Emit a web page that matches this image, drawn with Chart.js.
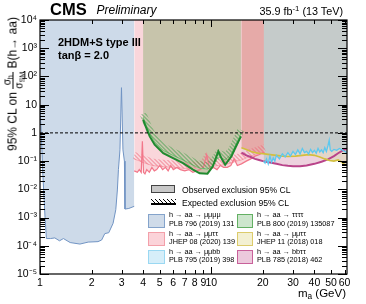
<!DOCTYPE html>
<html lang="en">
<head>
  <meta charset="UTF-8" />
  <title>2HDM+S type III, tanβ = 2.0</title>
  <script src="https://cdn.jsdelivr.net/npm/chart.js"></script>
  <style>
    body { margin: 0; background: #fff; font-family: 'Liberation Sans', Arial, sans-serif; }
    .wrap { position: relative; width: 366px; height: 304px; }
    canvas { display: block; }
    .txt { position: absolute; white-space: nowrap; line-height: 1; color: #000; }
    #cms { left: 50px; top: 1px; font-size: 16.5px; font-weight: bold; }
    #prelim { left: 96.5px; top: 3.8px; font-size: 12px; font-style: italic; }
    #lumi { right: 23px; top: 6.4px; font-size: 10.8px; }
    #model { left: 58px; top: 36.7px; font-size: 11px; font-weight: bold; }
    #tanb { left: 58px; top: 50.3px; font-size: 11px; font-weight: bold; }
    #xtitle { right: 20px; top: 288.3px; font-size: 11.5px; }
    #ytitle { left: 13px; top: 83.5px; font-size: 12px; transform: translate(-50%, -50%) rotate(-90deg); }
    .frac { display: inline-flex; flex-direction: column; vertical-align: middle; font-size: 10px; text-align: center; line-height: 1.1; }
    .frac .num { border-bottom: 1px solid #000; padding: 0 1px; }
    sub, sup { font-size: 0.72em; line-height: 0; }
    sub { vertical-align: -0.3em; }
    sup { vertical-align: 0.55em; }
    .obsBox { position: absolute; left: 151px; top: 185px; width: 22px; height: 6px; background: #c8c8c8; border: 1.5px solid #444; }
    .expHatch { position: absolute; left: 151px; top: 199px; width: 25px; height: 4px;
      background: repeating-linear-gradient(45deg, #000 0 0.7px, transparent 0.7px 2.8px); }
    .expLine { position: absolute; left: 151px; top: 203px; width: 25px; height: 2px; background: #000; }
    .legTxt { font-size: 8.6px; left: 182px; }
    .chBox { position: absolute; height: 12px; border: 1.5px solid; }
    .chTxt { position: absolute; font-size: 7.3px; line-height: 8.5px; white-space: nowrap; }
  </style>
</head>
<body>
  <div class="wrap">
    <canvas id="limits" width="366" height="304"></canvas>
    <div class="txt" id="cms">CMS</div>
    <div class="txt" id="prelim">Preliminary</div>
    <div class="txt" id="lumi">35.9 fb<sup>-1</sup> (13 TeV)</div>
    <div class="txt" id="model">2HDM+S type III</div>
    <div class="txt" id="tanb">tanβ = 2.0</div>
    <div class="txt" id="xtitle">m<sub>a</sub> (GeV)</div>
    <div class="txt" id="ytitle">95% CL on <span class="frac"><span class="num">σ<sub>h</sub></span><span>σ<sub>SM</sub></span></span> B(h→ aa)</div>
    <div class="obsBox"></div>
    <div class="txt legTxt" style="top:185.5px">Observed exclusion 95% CL</div>
    <div class="expHatch"></div>
    <div class="expLine"></div>
    <div class="txt legTxt" style="top:198.6px">Expected exclusion 95% CL</div>
    <div id="chanLegend"></div>
  </div>

  <script>
  // h -> aa -> mumumumu (PLB 796 (2019) 131)
  const mass4mu = [1.0, 1.02, 1.04, 1.07, 1.09, 1.15, 1.22, 1.30, 1.37, 1.50, 1.71, 1.91, 2.18, 2.29, 2.39, 2.52, 2.67, 2.77, 2.83, 2.87, 2.93, 2.99, 3.05, 3.11, 3.135, 3.3, 3.55];
  const lim4mu = [8, 0.6, 0.03, 1e-3, 1.8e-4, 1.8e-4, 1.9e-4, 1.5e-4, 1.8e-4, 1.3e-4, 1.15e-4, 1.35e-4, 1.4e-4, 1.6e-4, 2.7e-4, 2.9e-4, 6.2e-4, 1.9e-3, 9.5e-3, 0.05, 0.25, 40, 0.25, 0.1, 2e-3, 2.1e-3, 2.5e-3];

  // h -> aa -> mumutautau (JHEP 08 (2020) 139)
  const mass2mu2tau = [3.55, 3.7, 3.8, 3.9, 3.96, 4.02, 4.1, 4.2, 4.35, 4.5, 4.65, 4.8, 5.0, 5.2, 5.4, 5.6, 5.8, 6.0, 6.3, 6.6, 7.0, 7.4, 7.8, 8.2, 8.6, 9.0, 9.4, 9.8, 10.3, 10.8, 11.3, 11.8, 12.4, 13.0, 13.6, 14.2, 15.0, 16.0, 17.0, 18.0, 19.0, 20.0, 20.5];
  const lim2mu2tau = [0.045, 0.04, 0.05, 0.04, 0.5, 0.04, 0.035, 0.05, 0.04, 0.06, 0.045, 0.05, 0.07, 0.05, 0.06, 0.045, 0.07, 0.05, 0.06, 0.05, 0.045, 0.05, 0.04, 0.045, 0.05, 0.06, 0.17, 0.05, 0.06, 0.05, 0.07, 0.06, 0.06, 0.07, 0.12, 0.07, 0.08, 0.1, 0.12, 0.15, 0.17, 0.2, 0.2];
  const massExp2mu2tau = [3.55, 4.0, 4.5, 5.0, 6.0, 7.0, 8.0, 9.0, 9.4, 10.0, 11.0, 12.0, 13.0, 14.0, 15.0, 16.0, 17.0, 18.0, 19.0, 20.5];
  const exp2mu2tau = [0.12, 0.09, 0.07, 0.065, 0.06, 0.055, 0.055, 0.06, 0.1, 0.065, 0.07, 0.075, 0.085, 0.1, 0.11, 0.13, 0.15, 0.17, 0.19, 0.22];

  // h -> aa -> tautautautau (PLB 800 (2019) 135087)
  const mass4tau = [4.0, 4.1, 4.37, 4.67, 5.24, 5.98, 6.84, 7.82, 8.55, 9.5, 10.2, 10.6, 11.0, 11.5, 12.05, 13.1, 14.0, 14.9];
  const lim4tau = [2.9, 1.96, 0.75, 0.38, 0.19, 0.128, 0.085, 0.05, 0.037, 0.036, 0.064, 0.12, 0.22, 0.12, 0.074, 0.146, 0.35, 0.75];
  const exp4tau = [3.6, 2.4, 0.95, 0.48, 0.24, 0.16, 0.11, 0.072, 0.056, 0.052, 0.07, 0.1, 0.14, 0.13, 0.11, 0.18, 0.42, 0.95];

  // h -> aa -> mumubb (PLB 795 (2019) 398)
  const mass2mu2b = [20.2, 20.6, 21, 21.5, 22, 22.5, 23, 23.5, 24, 25, 26, 27, 28, 29, 30, 31, 32, 33, 34, 35, 36, 37, 38, 39, 40, 41, 42, 43, 44, 45, 46, 47, 48, 48.8, 49.5, 50.5, 52, 54, 56, 58, 60, 62];
  const lim2mu2b = [0.1, 0.085, 0.12, 0.08, 0.15, 0.09, 0.13, 0.1, 0.16, 0.12, 0.18, 0.14, 0.2, 0.15, 0.22, 0.17, 0.25, 0.18, 0.28, 0.2, 0.22, 0.18, 0.26, 0.2, 0.24, 0.19, 0.28, 0.21, 0.25, 0.2, 0.3, 0.22, 0.35, 0.55, 0.25, 0.22, 0.26, 0.24, 0.28, 0.25, 0.22, 0.2];

  // h -> aa -> mumutautau (JHEP 11 (2018) 018)
  const mass2mu2tau18 = [15, 16, 17, 18, 19, 20.5, 22, 24, 26, 28, 31, 34, 37, 40, 43, 46, 49, 52, 55, 58, 60, 62];
  const lim2mu2tau18 = [0.3, 0.26, 0.22, 0.2, 0.19, 0.18, 0.17, 0.16, 0.15, 0.145, 0.15, 0.16, 0.17, 0.16, 0.14, 0.12, 0.105, 0.1, 0.11, 0.09, 0.075, 0.07];

  // h -> aa -> bbtautau (PLB 785 (2018) 462)
  const mass2b2tau = [15, 16, 17, 18, 19, 20, 22, 24, 26, 28, 30, 33, 36, 40, 44, 48, 52, 55, 58, 62];
  const lim2b2tau = [0.2, 0.16, 0.14, 0.12, 0.11, 0.1, 0.09, 0.08, 0.072, 0.068, 0.066, 0.066, 0.07, 0.08, 0.095, 0.115, 0.15, 0.19, 0.23, 0.28];

  const xTicks = [1, 2, 3, 4, 5, 6, 7, 8, 9, 10, 20, 30, 40, 50, 60];
  const yTicks = [1e-5, 1e-4, 1e-3, 1e-2, 1e-1, 1, 10, 1e2, 1e3, 1e4];

  const legendNames = ['h → aa → μμμμ', 'h → aa → μμττ', 'h → aa → μμbb', 'h → aa → ττττ', 'h → aa → μμττ', 'h → aa → bbττ'];
  const legendRefs = ['PLB 796 (2019) 131', 'JHEP 08 (2020) 139', 'PLB 795 (2019) 398', 'PLB 800 (2019) 135087', 'JHEP 11 (2018) 018', 'PLB 785 (2018) 462'];
  const legendFill = ['#cfdbe9', '#fbd3d9', '#d6eef9', '#cde6cd', '#f3f0d2', '#ecc9dc'];
  const legendEdge = ['#84a3cb', '#f3a0aa', '#9ad8f2', '#63b063', '#dccb6a', '#c8609a'];

  const chanLegend = document.getElementById('chanLegend');
  legendNames.forEach((name, i) => {
    const col = i < 3 ? 0 : 1;
    const top = 213.7 + (i % 3) * 18.3;
    const boxLeft = col ? 237 : 148;
    const box = document.createElement('div');
    box.className = 'chBox';
    box.style.cssText = `left:${boxLeft}px;top:${top}px;width:${col ? 14 : 15}px;background:${legendFill[i]};border-color:${legendEdge[i]}`;
    chanLegend.appendChild(box);
    const txt = document.createElement('div');
    txt.className = 'chTxt';
    txt.style.left = (col ? 257 : 169) + 'px';
    txt.style.top = (top - 2.5) + 'px';
    txt.innerHTML = name + '<br>' + legendRefs[i];
    chanLegend.appendChild(txt);
  });

  const sup = { '-': '⁻', '0': '⁰', '1': '¹', '2': '²', '3': '³', '4': '⁴', '5': '⁵' };
  function yLabel(v) {
    const e = Math.round(Math.log10(v));
    if (e === 0) return '1';
    if (e === 1) return '10';
    return '10' + String(e).split('').map(c => sup[c]).join('');
  }

  function hatch(color) {
    const c = document.createElement('canvas');
    c.width = 4; c.height = 4;
    const g = c.getContext('2d');
    g.strokeStyle = color; g.lineWidth = 0.9;
    g.beginPath();
    g.moveTo(0, 0); g.lineTo(4, 4);
    g.moveTo(-1, 3); g.lineTo(1, 5);
    g.moveTo(3, -1); g.lineTo(5, 1);
    g.stroke();
    return g.createPattern(c, 'repeat');
  }

  const pts = (xs, ys) => xs.map((x, i) => ({ x, y: ys[i] }));
  const region = (data, color, order) => ({ data, fill: 'end', backgroundColor: color, borderColor: 'transparent', borderWidth: 0, pointRadius: 0, order });
  const curve = (data, color, width, order) => ({ data, fill: false, borderColor: color, borderWidth: width, pointRadius: 0, order });

  // hatched band drawn on the excluded side of the expected limits
  const hatchBand = {
    id: 'hatchBand',
    afterDatasetDraw(chart, args) {
      const ds = chart.data.datasets[args.index];
      if (!ds.hatch) return;
      const a = chart.chartArea, ctx = chart.ctx;
      ctx.save();
      ctx.beginPath();
      ctx.rect(a.left, a.top, a.right - a.left, a.bottom - a.top);
      ctx.clip();
      ctx.translate(0, -3.5);
      ctx.beginPath();
      args.meta.data.forEach((p, i) => i ? ctx.lineTo(p.x, p.y) : ctx.moveTo(p.x, p.y));
      ctx.strokeStyle = ds.hatch;
      ctx.lineWidth = 7;
      ctx.stroke();
      ctx.restore();
    }
  };

  // ROOT-like frame with ticks on the inside of all four sides
  const frameTicks = {
    id: 'frameTicks',
    afterDraw(chart) {
      const { ctx, chartArea: a, scales: { x, y } } = chart;
      ctx.save();
      ctx.strokeStyle = '#000';
      ctx.lineWidth = 1;
      ctx.beginPath();
      for (let e = -5; e <= 4; e++) {
        for (let k = 1; k <= 9; k++) {
          const v = k * Math.pow(10, e);
          if (v > 1e4) break;
          const py = Math.round(y.getPixelForValue(v)) + 0.5;
          const len = k === 1 ? 9 : 5;
          ctx.moveTo(a.left, py); ctx.lineTo(a.left + len, py);
          ctx.moveTo(a.right, py); ctx.lineTo(a.right - len, py);
        }
      }
      xTicks.forEach(v => {
        const px = Math.round(x.getPixelForValue(v)) + 0.5;
        const len = (v === 1 || v === 10) ? 7 : 4;
        ctx.moveTo(px, a.bottom); ctx.lineTo(px, a.bottom - len);
        ctx.moveTo(px, a.top); ctx.lineTo(px, a.top + len);
      });
      ctx.stroke();
      ctx.lineWidth = 1.2;
      ctx.strokeRect(a.left, a.top, a.right - a.left, a.bottom - a.top);
      ctx.restore();
    }
  };

  Chart.defaults.font.family = "'Liberation Sans', Arial, sans-serif";
  Chart.defaults.color = '#000';

  const expPink = curve(pts(massExp2mu2tau, exp2mu2tau), '#f6a9b3', 1, 9);
  expPink.hatch = hatch('rgba(236,95,115,0.85)');
  const expGreen = curve(pts(mass4tau, exp4tau), '#74c274', 1, 3);
  expGreen.hatch = hatch('rgba(60,160,70,0.9)');

  new Chart(document.getElementById('limits'), {
    type: 'line',
    data: {
      datasets: [
        region(pts(mass2mu2tau, lim2mu2tau), '#fad6db', 20),
        region(pts(mass4mu, lim4mu), '#cddae9', 19),
        region(pts(mass4tau, lim4tau), '#c7c4ab', 18),
        region(pts(mass2b2tau, lim2b2tau), '#edd2de', 17),
        region(pts(mass2mu2tau18, lim2mu2tau18), '#e4d6c8', 16),
        region(pts(mass2mu2tau18, lim2mu2tau18).filter(p => p.x <= 20.5), '#e6aaa8', 15),
        region(pts(mass2mu2b, lim2mu2b), '#c5cbca', 14),
        expPink,
        curve(pts(mass2mu2tau, lim2mu2tau), '#f2778a', 1.2, 8),
        curve(pts(mass4mu, lim4mu), '#7093c3', 1, 7),
        curve(pts(mass2b2tau, lim2b2tau), '#b9448a', 2, 6),
        curve(pts(mass2mu2tau18, lim2mu2tau18), '#d2bf3e', 1.6, 5),
        curve(pts(mass2mu2b, lim2mu2b), '#5cc8ef', 1.3, 4),
        expGreen,
        curve(pts(mass4tau, lim4tau), '#1f8a2f', 2, 2),
        Object.assign(curve([{ x: 1, y: 1 }, { x: 62, y: 1 }], '#000', 1, 1), { borderDash: [3, 2] })
      ]
    },
    options: {
      responsive: false,
      animation: false,
      layout: { padding: { top: 20, right: 19, bottom: 0, left: 0 } },
      plugins: {
        legend: { display: false },
        tooltip: { enabled: false },
        filler: { drawTime: 'beforeDatasetsDraw' }
      },
      scales: {
        x: {
          type: 'logarithmic',
          min: 1,
          max: 62,
          grid: { display: false, drawTicks: false },
          border: { display: false },
          ticks: { autoSkip: false, maxRotation: 0, padding: 3, font: { size: 10.5 }, callback: v => String(v) },
          afterBuildTicks: s => { s.ticks = xTicks.map(v => ({ value: v })); },
          afterFit: s => { s.height = 30; }
        },
        y: {
          type: 'logarithmic',
          min: 1e-5,
          max: 1e4,
          grid: { display: false, drawTicks: false },
          border: { display: false },
          ticks: { padding: 3, font: { size: 10.5 }, callback: v => yLabel(v) },
          afterBuildTicks: s => { s.ticks = yTicks.map(v => ({ value: v })); },
          afterFit: s => { s.width = 40; }
        }
      }
    },
    plugins: [hatchBand, frameTicks]
  });
  </script>
</body>
</html>
